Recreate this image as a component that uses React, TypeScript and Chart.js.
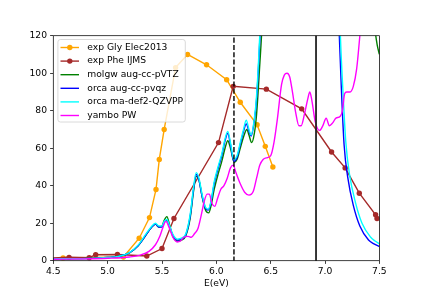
import React, { useEffect, useRef } from 'react';
import { Chart, registerables } from 'chart.js';
Chart.register(...registerables);

// ---- data ----
const xTickValues = [4.5, 5.0, 5.5, 6.0, 6.5, 7.0, 7.5];
const xTickLabels = ['4.5', '5.0', '5.5', '6.0', '6.5', '7.0', '7.5'];
const yTickValues = [0, 20, 40, 60, 80, 100, 120];
const yTickLabels = ['0', '20', '40', '60', '80', '100', '120'];

const glyE = [4.59, 5.145, 5.29, 5.385, 5.445, 5.475, 5.52, 5.625, 5.735, 5.91, 6.095, 6.22, 6.375, 6.45, 6.52];
const glyV = [1.5, 2.0, 12, 23, 38, 54, 70, 103, 110, 104.5, 96.5, 84.5, 72.5, 61, 50];

const pheE = [4.4, 4.645, 4.83, 4.89, 5.09, 5.36, 5.5, 5.61, 6.02, 6.155, 6.46, 6.785, 7.06, 7.185, 7.315, 7.465, 7.478];
const pheV = [1.3, 1.8, 1.6, 3.2, 3.3, 2.5, 6.5, 22.5, 63, 93, 91.5, 81, 58, 49.5, 36, 24.5, 22.5];

const molgwE = [4.5, 4.7, 4.9, 5.0, 5.1, 5.2, 5.28, 5.35, 5.4, 5.44, 5.47, 5.5, 5.52, 5.545, 5.57, 5.6, 5.64, 5.68, 5.72, 5.76, 5.79, 5.815, 5.84, 5.87, 5.9, 5.93, 5.95, 5.98, 6.02, 6.05, 6.08, 6.105, 6.13, 6.165, 6.19, 6.22, 6.25, 6.28, 6.3, 6.325, 6.35, 6.37, 6.4, 6.42, 6.45, 6.5, 7.0, 7.4, 7.44, 7.46, 7.48, 7.5];
const molgwV = [1.0, 1.1, 1.4, 1.7, 2.3, 4.2, 8, 13.5, 17.5, 19.5, 18, 18.5, 21.5, 23.5, 19, 13, 10.5, 11, 13.5, 23, 37, 45, 43, 34, 27, 25.5, 29, 38, 47, 53, 60, 64, 60, 52.5, 54, 60, 66, 70, 67, 63, 68, 78, 105, 125, 170, 260, 400, 250, 135, 123, 115, 110];

const orcaQzE = [4.5, 4.7, 4.9, 5.0, 5.1, 5.2, 5.28, 5.35, 5.4, 5.44, 5.47, 5.5, 5.52, 5.545, 5.57, 5.6, 5.64, 5.68, 5.72, 5.76, 5.79, 5.815, 5.84, 5.87, 5.9, 5.925, 5.95, 5.98, 6.02, 6.05, 6.08, 6.105, 6.13, 6.16, 6.19, 6.22, 6.25, 6.275, 6.3, 6.32, 6.35, 6.37, 6.4, 6.43, 6.47, 6.5, 7.05, 7.1, 7.13, 7.15, 7.175, 7.21, 7.26, 7.32, 7.4, 7.45, 7.5];
const orcaQzV = [1.0, 1.1, 1.4, 1.7, 2.3, 4.2, 8, 13.5, 17.5, 19.5, 18, 18, 20.5, 21.5, 18, 13.5, 11, 11.5, 14, 24, 38, 46, 43, 34, 28, 27, 31, 41, 50, 56, 64, 68, 62, 53, 55, 62, 69, 73, 69, 66.5, 75, 86, 118, 160, 220, 300, 300, 170, 122, 92, 62, 44, 29.5, 18.5, 11, 9, 7.5];

const orcaMaE = [4.5, 4.7, 4.9, 5.0, 5.1, 5.2, 5.28, 5.35, 5.4, 5.44, 5.47, 5.5, 5.52, 5.545, 5.57, 5.6, 5.64, 5.68, 5.72, 5.76, 5.79, 5.815, 5.84, 5.87, 5.9, 5.925, 5.95, 5.98, 6.02, 6.05, 6.08, 6.105, 6.13, 6.16, 6.19, 6.22, 6.25, 6.275, 6.3, 6.32, 6.35, 6.37, 6.4, 6.43, 6.47, 6.5, 7.05, 7.11, 7.14, 7.165, 7.19, 7.225, 7.28, 7.34, 7.42, 7.46, 7.5];
const orcaMaV = [1.0, 1.1, 1.4, 1.7, 2.3, 4.3, 8.3, 14, 18, 20, 18.5, 18.5, 21, 22, 18.5, 14, 11.5, 12, 14.5, 25, 39, 47, 44, 35, 28.5, 27.5, 31.5, 42, 51, 57, 65, 69, 63, 54, 56, 63, 70, 75, 70, 67, 76, 88, 121, 165, 225, 300, 300, 190, 122, 90, 64, 46, 31, 20, 12.5, 10.5, 9];

const yamboE = [4.5, 4.8, 5.0, 5.2, 5.3, 5.38, 5.44, 5.48, 5.51, 5.535, 5.57, 5.6, 5.64, 5.67, 5.7, 5.74, 5.77, 5.8, 5.83, 5.86, 5.89, 5.915, 5.935, 5.96, 5.985, 6.01, 6.04, 6.07, 6.1, 6.13, 6.155, 6.18, 6.22, 6.26, 6.3, 6.34, 6.37, 6.4, 6.43, 6.47, 6.5, 6.53, 6.56, 6.6, 6.625, 6.65, 6.675, 6.7, 6.73, 6.76, 6.78, 6.81, 6.84, 6.86, 6.88, 6.91, 6.95, 6.98, 7.01, 7.04, 7.07, 7.1, 7.14, 7.16, 7.18, 7.2, 7.23, 7.26, 7.29, 7.32, 7.36, 7.42, 7.5];
const yamboV = [0.8, 1.0, 1.3, 2.0, 3.0, 5, 8.5, 13, 18, 21, 17, 12.5, 10, 10.5, 12.5, 13, 12.5, 14.5, 17, 24, 32, 35.5, 35.5, 30.5, 29, 33, 38, 40, 44, 49.5, 51, 47, 41, 36.5, 35, 37, 44, 51, 54, 55, 56, 63, 75, 94, 99, 100, 98, 90, 79, 72, 72, 78, 86, 90, 85, 74, 69.5, 72, 76, 72, 73.5, 76, 77, 80, 89, 90, 90, 93, 102, 120, 150, 220, 300];

const dashedLineE = 6.162;
const solidLineE = 6.917;

const pts = (xs: number[], ys: number[]) => xs.map((x, i) => ({ x, y: ys[i] }));

const FONT = 'DejaVu Sans';

const legendPlugin = {
  id: 'mplLegend',
  afterDraw(chart: any) {
    const ctx = chart.ctx as CanvasRenderingContext2D;
    const items = chart.data.datasets.filter((d: any) => d.inLegend);
    ctx.save();
    const x0 = 57.9, y0 = 39.5, w = 127.4, h = 82.5, r = 2.5;
    ctx.beginPath();
    ctx.moveTo(x0 + r, y0);
    ctx.lineTo(x0 + w - r, y0);
    ctx.arcTo(x0 + w, y0, x0 + w, y0 + r, r);
    ctx.lineTo(x0 + w, y0 + h - r);
    ctx.arcTo(x0 + w, y0 + h, x0 + w - r, y0 + h, r);
    ctx.lineTo(x0 + r, y0 + h);
    ctx.arcTo(x0, y0 + h, x0, y0 + h - r, r);
    ctx.lineTo(x0, y0 + r);
    ctx.arcTo(x0, y0, x0 + r, y0, r);
    ctx.closePath();
    ctx.fillStyle = 'rgba(255,255,255,0.8)';
    ctx.fill();
    ctx.strokeStyle = 'rgba(204,204,204,0.8)';
    ctx.lineWidth = 0.9;
    ctx.stroke();
    items.forEach((d: any, i: number) => {
      const y = 47.5 + i * 13.6;
      ctx.strokeStyle = d.borderColor;
      ctx.lineWidth = 1.4;
      ctx.beginPath();
      ctx.moveTo(60.5, y);
      ctx.lineTo(79, y);
      ctx.stroke();
      if (d.pointRadius > 0) {
        ctx.fillStyle = d.borderColor;
        ctx.beginPath();
        ctx.arc(69.8, y, d.pointRadius, 0, Math.PI * 2);
        ctx.fill();
      }
      ctx.fillStyle = '#000';
      ctx.font = `9.2px "${FONT}"`;
      ctx.textBaseline = 'middle';
      ctx.textAlign = 'left';
      ctx.fillText(d.label, 87.3, y);
    });
    ctx.restore();
  },
};

const framePlugin = {
  id: 'frame',
  afterDatasetsDraw(chart: any) {
    const { ctx, chartArea } = chart;
    ctx.save();
    ctx.strokeStyle = '#000';
    ctx.lineWidth = 0.75;
    ctx.strokeRect(chartArea.left, chartArea.top, chartArea.right - chartArea.left, chartArea.bottom - chartArea.top);
    ctx.restore();
  },
};

export default function App() {
  const ref = useRef<HTMLCanvasElement>(null);
  useEffect(() => {
    document.body.style.margin = '0';
    const lw = 1.4;
    const curve = (label: string, color: string, xs: number[], ys: number[], order: number) => ({
      label, inLegend: true, data: pts(xs, ys), borderColor: color, backgroundColor: color,
      borderWidth: lw, pointRadius: 0, showLine: true, cubicInterpolationMode: 'monotone', clip: 0, order,
    });
    const exp = (label: string, color: string, xs: number[], ys: number[], order: number) => ({
      label, inLegend: true, data: pts(xs, ys), borderColor: color, backgroundColor: color,
      borderWidth: lw, pointRadius: 2.7, pointBorderWidth: 0, pointHoverRadius: 2.7, showLine: true, tension: 0, clip: 0, order,
    });
    const vline = (x: number, dash: number[], width: number, color: string, order: number) => ({
      label: '', inLegend: false, data: [{ x, y: -20 }, { x, y: 140 }], borderColor: color,
      borderWidth: width, borderDash: dash, pointRadius: 0, showLine: true, clip: 0, order,
    });
    const chart = new Chart(ref.current!, {
      type: 'scatter',
      data: {
        datasets: [
          exp('exp Gly Elec2013', '#FFA500', glyE, glyV, 0),
          exp('exp Phe IJMS', '#A52A2A', pheE, pheV, -1),
          curve('molgw aug-cc-pVTZ', '#008000', molgwE, molgwV, -2),
          curve('orca aug-cc-pvqz', '#0000FF', orcaQzE, orcaQzV, -3),
          curve('orca ma-def2-QZVPP', '#00FFFF', orcaMaE, orcaMaV, -4),
          curve('yambo PW', '#FF00FF', yamboE, yamboV, -5),
          vline(dashedLineE, [5.1, 2.2], 1.4, '#000', -6),
          vline(solidLineE, [], 1.8, '#222', -7),
        ] as any,
      },
      options: {
        animation: false,
        responsive: false,
        devicePixelRatio: 1,
        events: [],
        layout: { padding: { left: 0, top: 35.7, right: 43.6, bottom: 0 } },
        plugins: { legend: { display: false }, tooltip: { enabled: false } },
        scales: {
          x: {
            type: 'linear', min: 4.5, max: 7.5,
            afterBuildTicks: (s: any) => { s.ticks = xTickValues.map((v) => ({ value: v })); },
            afterFit: (s: any) => { s.height = 32.3; },
            ticks: {
              callback: (_v: any, i: number) => xTickLabels[i],
              autoSkip: false, maxRotation: 0, minRotation: 0,
              color: '#000', font: { family: FONT, size: 9.2 }, padding: 2.5,
            },
            grid: { drawOnChartArea: false, drawTicks: true, tickLength: 3.2, color: '#000', lineWidth: 0.75 },
            border: { display: false },
            title: { display: true, text: 'E(eV)', color: '#000', font: { family: FONT, size: 9.2 }, padding: { top: 0, bottom: 4.2 } },
          },
          y: {
            type: 'linear', min: 0, max: 120,
            afterBuildTicks: (s: any) => { s.ticks = yTickValues.map((v) => ({ value: v })); },
            afterFit: (s: any) => { s.width = 53.3; },
            ticks: {
              callback: (_v: any, i: number) => yTickLabels[i],
              autoSkip: false,
              color: '#000', font: { family: FONT, size: 9.2 }, padding: 3.1,
            },
            grid: { drawOnChartArea: false, drawTicks: true, tickLength: 3.2, color: '#000', lineWidth: 0.75 },
            border: { display: false },
          },
        },
      } as any,
      plugins: [framePlugin, legendPlugin],
    });
    return () => chart.destroy();
  }, []);
  return (
    <div style={{ position: 'relative', width: 423, height: 293 }}>
      <canvas ref={ref} width={423} height={293} style={{ display: 'block', width: 423, height: 293 }} />
    </div>
  );
}
